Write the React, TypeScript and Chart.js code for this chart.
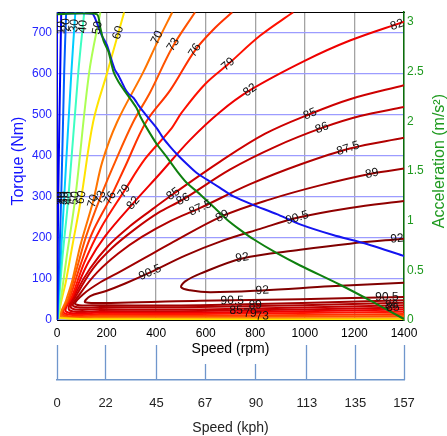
import React, { useEffect, useRef } from "react";
import { Chart, registerables } from "chart.js";
Chart.register(...registerables);

// ---- axis ticks ----
const rpmTicks = [0, 200, 400, 600, 800, 1000, 1200, 1400];
const torqueTicks = [0, 100, 200, 300, 400, 500, 600, 700];
const accelTicks = [0, 0.5, 1, 1.5, 2, 2.5, 3];
const kphTicks = [0, 22, 45, 67, 90, 113, 135, 157];
const kphShortTicks = [67, 90];

// ---- torque curve (Nm) ----
const torqueRpm = [0, 142, 161, 181, 202, 222, 235, 248, 262, 275, 289, 309, 329, 349, 376, 403, 430, 457, 484, 524, 564, 605, 658, 712, 793, 887, 981, 1114, 1250, 1400];
const torqueNm = [746, 746, 724, 693, 669, 630, 608, 596, 579, 563, 551, 541, 523, 507, 487, 467, 442, 422, 404, 380, 358, 342, 322, 301, 280, 258, 233, 207, 185, 156];

// ---- acceleration curve (m/s^2) ----
const accelRpm = [0, 161, 175, 188, 208, 228, 248, 275, 295, 322, 336, 363, 403, 443, 484, 524, 578, 631, 685, 739, 793, 887, 981, 1142, 1276, 1400];
const accelVal = [3.08, 3.08, 2.94, 2.81, 2.7, 2.5, 2.4, 2.3, 2.23, 2.13, 2.05, 1.93, 1.77, 1.64, 1.5, 1.38, 1.265, 1.14, 1.013, 0.908, 0.813, 0.673, 0.549, 0.355, 0.18, 0.01];

// ---- efficiency contours: [rpm, Nm] ----
const effLevels = [10, 20, 30, 40, 50, 60, 70, 73, 76, 79, 82, 85, 86, 87.5, 89, 90.5, 92];
const eff10 = [[1, 2], [5, 299], [13, 604], [17, 750]];
const eff20 = [[1, 2], [17, 299], [29, 604], [37, 750]];
const eff30 = [[1, 2], [29, 299], [58, 604], [74, 750]];
const eff40 = [[3, 2], [21, 145], [46, 299], [86, 604], [110, 750]];
const eff50 = [[5, 2], [37, 145], [74, 299], [130, 604], [175, 750]];
const eff60 = [[1400, 1.7], [376, 1.7], [9, 4.8], [37, 97], [62, 181], [98, 299], [146, 483], [203, 604], [271, 750]];
const eff70 = [[1400, 4.1], [578, 4.1], [175, 4.8], [17, 7.2], [37, 48], [62, 97], [94, 181], [146, 290], [183, 386], [243, 483], [348, 604], [404, 676], [465, 750]];
const eff73 = [[1400, 9.7], [578, 8], [175, 8.4], [21, 10.9], [46, 53], [78, 121], [118, 205], [175, 299], [235, 386], [308, 483], [376, 555], [465, 664], [557, 750]];
const eff76 = [[1400, 14.5], [578, 10.4], [175, 10.9], [25, 13.3], [54, 58], [94, 133], [142, 212], [215, 297], [275, 374], [360, 483], [457, 560], [557, 657], [638, 712], [707, 750]];
const eff79 = [[1400, 20], [578, 14.5], [175, 14.5], [29, 16.9], [62, 60], [110, 140], [175, 222], [271, 314], [356, 393], [457, 463], [505, 507], [598, 575], [690, 623], [820, 693], [953, 750]];
const eff82 = [[1400, 25.8], [578, 17.6], [175, 18.1], [37, 20.5], [70, 65], [126, 140], [195, 205], [308, 285], [416, 357], [537, 439], [658, 507], [779, 560], [1001, 632], [1182, 681], [1400, 727]];
const eff85 = [[1400, 30.7], [578, 21.7], [175, 21.7], [50, 24], [78, 68], [134, 126], [207, 181], [295, 229], [376, 266], [469, 307], [658, 386], [840, 454], [1021, 502], [1182, 538], [1400, 572]];
const eff86 = [[1400, 36.2], [578, 25.8], [175, 26.6], [58, 29], [86, 68], [146, 126], [223, 176], [316, 222], [408, 261], [509, 294], [699, 367], [880, 422], [1069, 468], [1223, 497], [1400, 519]];
const eff87 = [[1400, 41.8], [578, 31.4], [175, 31.4], [66, 33.8], [94, 65], [162, 116], [247, 162], [344, 203], [457, 241], [578, 273], [779, 331], [981, 379], [1182, 418], [1400, 444]];
const eff89 = [[1400, 48.3], [578, 36.2], [175, 36.2], [74, 38.6], [106, 63], [175, 92], [255, 118], [356, 152], [457, 186], [667, 253], [860, 294], [1061, 328], [1271, 357], [1400, 369]];
const eff90 = [[1400, 56.2], [981, 50.7], [578, 47], [255, 42.2], [114, 43.5], [134, 58], [195, 70], [275, 89], [376, 116], [517, 157], [658, 191], [820, 222], [969, 249], [1182, 273], [1400, 290]];
const eff92 = [[1400, 91], [1102, 82], [828, 72], [618, 67.6], [537, 72.4], [501, 79.7], [517, 94], [578, 113], [747, 150], [981, 171], [1182, 186], [1400, 198]];
const effContours = [eff10, eff20, eff30, eff40, eff50, eff60, eff70, eff73, eff76, eff79, eff82, eff85, eff86, eff87, eff89, eff90, eff92];

// ---- contour labels ----
const labelText = ["10", "20", "30", "40", "50", "60", "70", "73", "76", "79", "82", "82", "85", "86", "87.5", "89", "90.5", "92", "92", "92",
  "10", "20", "30", "40", "50", "60", "70", "73", "76", "79", "82", "85", "86", "87.5", "89", "90.5",
  "90.5", "89", "85", "79", "73", "90.5", "86", "85"];
const labelLevel = [10, 20, 30, 40, 50, 60, 70, 73, 76, 79, 82, 82, 85, 86, 87.5, 89, 90.5, 92, 92, 92,
  10, 20, 30, 40, 50, 60, 70, 73, 76, 79, 82, 85, 86, 87.5, 89, 90.5,
  90.5, 89, 85, 79, 73, 90.5, 86, 85];
const labelRpm = [17, 36, 70, 105, 163, 247, 404, 469, 557, 690, 779, 1372, 1021, 1069, 1174, 1271, 969, 1372, 747, 828,
  5, 17, 29, 46, 72, 98, 146, 175, 215, 271, 308, 469, 509, 578, 667, 376,
  707, 800, 723, 779, 828, 1331, 1350, 1355];
const labelNm = [712, 719, 717, 715, 712, 700, 688, 671, 657, 623, 560, 719, 502, 468, 418, 357, 249, 198, 152, 72,
  297, 297, 297, 297, 297, 299, 290, 299, 297, 314, 285, 307, 294, 273, 253, 116,
  47, 36, 23, 16, 9, 56, 36, 30];

const FONT = "'Liberation Sans', Arial, sans-serif";

function jet(t: number): string {
  const c = (v: number) => Math.round(255 * Math.max(0, Math.min(1, v)));
  return `rgb(${c(1.5 - Math.abs(4 * t - 3))},${c(1.5 - Math.abs(4 * t - 2))},${c(1.5 - Math.abs(4 * t - 1))})`;
}

const contourLabelPlugin = {
  id: "contourLabels",
  afterDatasetsDraw(chart: any) {
    const xs = chart.scales.x;
    const ys = chart.scales.y;
    const ctx = chart.ctx;
    const a = chart.chartArea;
    ctx.save();
    ctx.beginPath();
    ctx.rect(a.left, a.top, a.right - a.left, a.bottom - a.top);
    ctx.clip();
    ctx.font = `12px ${FONT}`;
    ctx.fillStyle = "#111";
    ctx.textAlign = "center";
    ctx.textBaseline = "middle";
    labelText.forEach((t, i) => {
      const k = effLevels.indexOf(labelLevel[i]);
      const pts = effContours[k].map(([x, y]) => [xs.getPixelForValue(x), ys.getPixelForValue(y)]);
      const px = xs.getPixelForValue(labelRpm[i]);
      const py = ys.getPixelForValue(labelNm[i]);
      let best = Infinity;
      let ang = 0;
      for (let j = 0; j < pts.length - 1; j++) {
        const [ax, ay] = pts[j];
        const [bx, by] = pts[j + 1];
        const dx = bx - ax, dy = by - ay;
        const l2 = dx * dx + dy * dy || 1;
        let u = ((px - ax) * dx + (py - ay) * dy) / l2;
        u = Math.max(0, Math.min(1, u));
        const qx = ax + u * dx - px, qy = ay + u * dy - py;
        const d = qx * qx + qy * qy;
        if (d < best) {
          best = d;
          ang = Math.atan2(dy, dx);
        }
      }
      if (ang > Math.PI / 2) ang -= Math.PI;
      if (ang < -Math.PI / 2) ang += Math.PI;
      ctx.save();
      ctx.translate(px, py);
      ctx.rotate(ang);
      ctx.fillText(t, 0, 0);
      ctx.restore();
    });
    ctx.restore();
  },
};

const axisTitlePlugin = {
  id: "axisTitles",
  afterDraw(chart: any) {
    const ctx = chart.ctx;
    const a = chart.chartArea;
    const cy = (a.top + a.bottom) / 2 - 5;
    const draw = (text: string, x: number, color: string) => {
      ctx.save();
      ctx.translate(x, cy);
      ctx.rotate(-Math.PI / 2);
      ctx.textAlign = "center";
      ctx.textBaseline = "middle";
      ctx.fillStyle = color;
      ctx.font = `16px ${FONT}`;
      ctx.fillText(text, 0, 0);
      ctx.restore();
    };
    draw("Torque (Nm)", chart.scales.y.left + 19, "#1414ff");
    draw("Acceleration (m/s\u00B2)", chart.scales.y2.right - 7, "#1f9a1f");
  },
};

export default function App() {
  const ref = useRef<HTMLCanvasElement | null>(null);
  useEffect(() => {
    if (!ref.current) return;
    Chart.defaults.font.family = FONT;
    const contourSets = effContours.map((pts, i) => ({
      label: String(effLevels[i]),
      data: pts.map(([x, y]) => ({ x, y })),
      xAxisID: "x",
      yAxisID: "y",
      borderColor: jet(effLevels[i] / 92),
      borderWidth: 2,
      pointRadius: 0,
      tension: 0.35,
      fill: false,
      order: 2,
    }));
    const chart = new Chart(ref.current, {
      type: "line",
      data: {
        datasets: [
          ...contourSets,
          {
            label: "Torque",
            data: torqueRpm.map((x, i) => ({ x, y: torqueNm[i] })),
            xAxisID: "x",
            yAxisID: "y",
            borderColor: "#1414f0",
            borderWidth: 2,
            pointRadius: 0,
            tension: 0.2,
            fill: false,
            order: 1,
          },
          {
            label: "Acceleration",
            data: accelRpm.map((x, i) => ({ x, y: accelVal[i] })),
            xAxisID: "x",
            yAxisID: "y2",
            borderColor: "#0f800f",
            borderWidth: 2,
            pointRadius: 0,
            tension: 0.2,
            fill: false,
            order: 0,
          },
        ] as any,
      },
      options: {
        animation: false,
        responsive: false,
        devicePixelRatio: 1,
        layout: { padding: { top: 9.3, left: 0, right: 0, bottom: 0 } },
        plugins: { legend: { display: false }, tooltip: { enabled: false } },
        scales: {
          x: {
            type: "linear",
            position: "bottom",
            weight: 0,
            min: 0,
            max: 1400,
            afterBuildTicks: (s: any) => { s.ticks = rpmTicks.map((v) => ({ value: v })); },
            afterFit: (s: any) => { s.height = 25; },
            grid: { color: "#a3a3a3", lineWidth: 1.3, drawTicks: false },
            border: { color: "#000", width: 1 },
            ticks: { color: "#000", font: { size: 12 }, padding: 6, maxRotation: 0, autoSkip: false, callback: (v: any) => String(v) },
            title: { display: true, text: "Speed (rpm)", color: "#000", font: { size: 14 }, padding: { top: 0, bottom: -13 } },
          },
          x2: {
            type: "linear",
            position: "bottom",
            weight: 1,
            min: 0,
            max: 157,
            afterBuildTicks: (s: any) => { s.ticks = kphTicks.map((v) => ({ value: v })); },
            afterFit: (s: any) => { s.height = 35; },
            grid: {
              display: true,
              drawOnChartArea: false,
              drawTicks: true,
              tickLength: 35,
              tickColor: "#6f96cc",
              tickWidth: 1.3,
              tickBorderDash: (c: any) => (c.tick && kphShortTicks.includes(c.tick.value) ? [0, 19, 20, 0] : []),
            },
            border: { display: false },
            ticks: { display: false },
          },
          x3: {
            type: "linear",
            position: "bottom",
            weight: 2,
            min: 0,
            max: 157,
            afterBuildTicks: (s: any) => { s.ticks = kphTicks.map((v) => ({ value: v })); },
            afterFit: (s: any) => { s.height = 56; },
            grid: { display: true, drawOnChartArea: false, drawTicks: false, color: "rgba(0,0,0,0)" },
            border: { display: true, color: "#6f96cc", width: 1.5 },
            ticks: { color: "#222", font: { size: 13 }, padding: 16, maxRotation: 0, autoSkip: false, callback: (v: any) => String(v) },
            title: { display: true, text: "Speed (kph)", color: "#222", font: { size: 14 }, padding: { top: 0, bottom: -1 } },
          },
          xTop: {
            type: "linear",
            position: "top",
            min: 0,
            max: 1400,
            afterFit: (s: any) => { s.height = 0; },
            grid: { drawOnChartArea: false, drawTicks: false },
            border: { color: "#000", width: 1 },
            ticks: { display: false },
          },
          y: {
            type: "linear",
            position: "left",
            min: 0,
            max: 750,
            afterBuildTicks: (s: any) => { s.ticks = torqueTicks.map((v) => ({ value: v })); },
            afterFit: (s: any) => { s.width = 57; },
            grid: { color: "#9c9cff", lineWidth: 1.2, drawTicks: false },
            border: { color: "#0000ff", width: 1 },
            ticks: { color: "#2424ff", font: { size: 12 }, padding: 5, callback: (v: any) => String(v) },
            title: { display: false },
          },
          y2: {
            type: "linear",
            position: "right",
            min: 0,
            max: 3.1,
            afterBuildTicks: (s: any) => { s.ticks = accelTicks.map((v) => ({ value: v })); },
            afterFit: (s: any) => { s.width = 43; },
            grid: { drawOnChartArea: false, drawTicks: false },
            border: { color: "#0a6e0a", width: 1.5 },
            ticks: { color: "#1f9a1f", font: { size: 12 }, padding: 3, callback: (v: any) => String(v) },
            title: { display: false },
          },
        } as any,
      },
      plugins: [contourLabelPlugin, axisTitlePlugin],
    });
    return () => chart.destroy();
  }, []);
  return (
    <div style={{ position: "absolute", left: 0, top: 0, width: 447, height: 436, background: "#fff" }}>
      <canvas ref={ref} width={447} height={436} style={{ display: "block" }} />
    </div>
  );
}
